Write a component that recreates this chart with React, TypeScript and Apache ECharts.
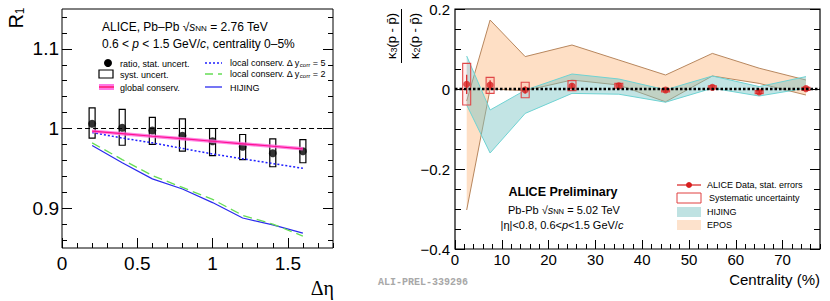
import React, { useEffect, useRef } from 'react';
import * as echarts from 'echarts';

// ---------- Left panel: R1 vs Δη ----------
const detaValues = [0.2, 0.4, 0.6, 0.8, 1.0, 1.2, 1.4, 1.6];
const ratioValues = [1.006, 1.001, 0.9975, 0.991, 0.984, 0.977, 0.969, 0.9715];
const ratioSystLow = [0.988, 0.979, 0.98, 0.9715, 0.966, 0.961, 0.952, 0.957];
const ratioSystHigh = [1.026, 1.024, 1.014, 1.012, 1.0, 0.9925, 0.987, 0.986];
const globalConserv = [0.9967, 0.9935, 0.9903, 0.9872, 0.984, 0.9808, 0.9777, 0.9745];
const localConserv5 = [0.995, 0.988, 0.982, 0.975, 0.968, 0.962, 0.956, 0.95];
const localConserv2 = [0.982, 0.961, 0.941, 0.926, 0.911, 0.891, 0.88, 0.865];
const hijingR1 = [0.9786, 0.957, 0.9368, 0.924, 0.907, 0.8877, 0.879, 0.8687];
const unityLineX = [0.1, 1.8];
const leftXTickLabels = ['0', '0.5', '1', '1.5'];
const leftYTickLabels = ['0.9', '1', '1.1'];

// ---------- Right panel: κ3/κ2 vs centrality ----------
const centrality = [2.5, 7.5, 15, 25, 35, 45, 55, 65, 75];
const aliceValues = [0.0117, 0.01, -0.0025, 0.0075, 0.008, -0.0025, 0.004, -0.0075, 0.001];
const aliceStat = [0.024, 0.012, 0.009, 0.007, 0.004, 0.004, 0.003, 0.004, 0.003];
const aliceSystLow = [-0.04, -0.011, -0.022, -0.004, 0.002, -0.005, 0.0, -0.011, -0.002];
const aliceSystHigh = [0.064, 0.029, 0.017, 0.021, 0.014, 0.0, 0.008, -0.004, 0.004];
const hijingUpper = [0.0825, -0.0525, -0.003, 0.0375, 0.025, -0.002, 0.0325, 0.006, 0.031];
const hijingLower = [-0.04, -0.16, -0.061, -0.011, -0.013, -0.033, 0.002, -0.0175, 0.002];
const eposUpper = [-0.03, 0.1725, 0.081, 0.11, 0.0725, 0.035, 0.089, 0.052, 0.0225];
const eposLower = [-0.3025, 0.0, -0.004, 0.0225, 0.01, -0.032, 0.0325, 0.014, -0.015];
const zeroLineX = [0, 78];
const rightXTickLabels = ['0', '10', '20', '30', '40', '50', '60', '70'];
const rightYTickLabels = ['\u22120.4', '\u22120.2', '0', '0.2'];

const FONT = '"Liberation Sans", Arial, Helvetica, sans-serif';

function cats(min: number, step: number, count: number) {
  return Array.from({ length: count }, (_, i) => (min + i * step).toFixed(3));
}

function tickAxis(
  gridIndex: number,
  position: string,
  data: string[],
  showTick: (i: number) => boolean,
  len: number,
  labelFn?: (i: number) => string | null,
  labelStyle?: any
) {
  return {
    type: 'category',
    gridIndex,
    position,
    data,
    boundaryGap: false,
    axisLine: { show: false },
    axisTick: {
      show: true,
      inside: true,
      length: len,
      interval: (i: number) => showTick(i),
      lineStyle: { color: '#000', width: 1 },
    },
    axisLabel: labelFn
      ? {
          show: true,
          interval: (i: number) => labelFn(i) !== null,
          formatter: (_v: string, i: number) => labelFn(i) ?? '',
          color: '#000',
          fontFamily: FONT,
          ...labelStyle,
        }
      : { show: false },
    splitLine: { show: false },
  };
}

function buildOption() {
  const LG = { left: 62, top: 9, width: 271, height: 239 };
  const RG = { left: 455, top: 9, width: 365, height: 240 };

  const lx = cats(0, 0.1, 19);
  const ly = cats(0.85, 0.01, 31);
  const rx = cats(0, 1, 79);
  const ry = cats(-0.4, 0.05, 13);

  const lxLabel = (i: number) => (i % 5 === 0 ? leftXTickLabels[i / 5] ?? null : null);
  const lyLabel = (i: number) => (i % 10 === 5 ? leftYTickLabels[(i - 5) / 10] ?? null : null);
  const rxLabel = (i: number) => (i % 10 === 0 ? rightXTickLabels[i / 10] ?? null : null);
  const ryLabel = (i: number) => (i % 4 === 0 ? rightYTickLabels[i / 4] ?? null : null);

  const bandSeries = (upper: number[], lower: number[], fill: string, stroke: string) => ({
    type: 'custom',
    xAxisIndex: 3,
    yAxisIndex: 5,
    clip: true,
    silent: true,
    data: [[centrality[0], upper[0]]],
    renderItem: (_p: any, api: any) => {
      const top = centrality.map((c, i) => api.coord([c, upper[i]]));
      const bot = centrality.map((c, i) => api.coord([c, lower[i]]));
      return {
        type: 'group',
        children: [
          { type: 'polygon', shape: { points: top.concat(bot.slice().reverse()) }, style: { fill, stroke: 'none' } },
          { type: 'polyline', shape: { points: top }, style: { stroke, lineWidth: 1, fill: 'none' } },
          { type: 'polyline', shape: { points: bot }, style: { stroke, lineWidth: 1, fill: 'none' } },
        ],
      };
    },
  });

  const richBase = {
    a: { fontSize: 12, fontFamily: FONT, color: '#000', verticalAlign: 'bottom', lineHeight: 15 },
    i: { fontSize: 12, fontFamily: FONT, fontStyle: 'italic', color: '#000', verticalAlign: 'bottom', lineHeight: 15 },
    sub: { fontSize: 8, fontFamily: FONT, color: '#000', verticalAlign: 'bottom', lineHeight: 9 },
  };
  const richLeg = {
    a: { fontSize: 9, fontFamily: FONT, color: '#000', verticalAlign: 'bottom', lineHeight: 11 },
    sub: { fontSize: 6, fontFamily: FONT, color: '#000', verticalAlign: 'bottom', lineHeight: 6 },
  };
  const richR = {
    a: { fontSize: 11, fontFamily: FONT, color: '#000', verticalAlign: 'bottom', lineHeight: 14 },
    i: { fontSize: 11, fontFamily: FONT, fontStyle: 'italic', color: '#000', verticalAlign: 'bottom', lineHeight: 14 },
    sub: { fontSize: 7.5, fontFamily: FONT, color: '#000', verticalAlign: 'bottom', lineHeight: 8 },
  };
  const richK = {
    k: { fontSize: 13, fontFamily: FONT, color: '#000', verticalAlign: 'bottom', lineHeight: 16 },
    s: { fontSize: 9, fontFamily: FONT, color: '#000', verticalAlign: 'bottom', lineHeight: 8 },
  };

  const legText = (x: number, y: number, text: string, rich: any) => ({
    type: 'text',
    x,
    y,
    style: { text, rich, align: 'left', verticalAlign: 'middle', fill: '#000' },
  });

  const graphic = [
    // left y title
    {
      type: 'text',
      x: 15,
      y: 18,
      rotation: Math.PI / 2,
      style: {
        text: '{r|R}{s|1}',
        rich: {
          r: { fontSize: 20, fontFamily: FONT, color: '#000', verticalAlign: 'bottom', lineHeight: 22 },
          s: { fontSize: 12, fontFamily: FONT, color: '#000', verticalAlign: 'bottom', lineHeight: 10 },
        },
        align: 'center',
        verticalAlign: 'middle',
      },
    },
    // left x title
    {
      type: 'text',
      x: 334,
      y: 288,
      style: { text: '\u0394\u03b7', fontSize: 20, fontFamily: '"Liberation Serif", serif', fill: '#000', align: 'right', verticalAlign: 'middle' },
    },
    // left header text
    legText(102, 25, '{a|ALICE, Pb\u2013Pb \u221a}{i|s}{sub|NN}{a| = 2.76 TeV}', richBase),
    legText(102, 42, '{a|0.6 < }{i|p}{a| < 1.5 GeV/}{i|c}{a|, centrality 0\u20135%}', richBase),
    // left legend
    { type: 'circle', shape: { cx: 108, cy: 63, r: 4 }, style: { fill: '#000' } },
    legText(120, 63, '{a|ratio, stat. uncert.}', richLeg),
    { type: 'rect', shape: { x: 99, y: 70, width: 14, height: 8 }, style: { fill: 'none', stroke: '#000', lineWidth: 1.2 } },
    legText(120, 74, '{a|syst. uncert.}', richLeg),
    { type: 'rect', shape: { x: 99, y: 84, width: 15, height: 6 }, style: { fill: '#ff77e6' } },
    { type: 'line', shape: { x1: 99, y1: 87, x2: 114, y2: 87 }, style: { stroke: '#ff0050', lineWidth: 1.2 } },
    legText(120, 87, '{a|global conserv.}', richLeg),
    { type: 'line', shape: { x1: 205, y1: 63, x2: 222, y2: 63 }, style: { stroke: '#1f1fff', lineWidth: 1.5, lineDash: [2, 2] } },
    legText(230, 62, '{a|local conserv. \u0394 y}{sub|corr}{a| = 5}', richLeg),
    { type: 'line', shape: { x1: 205, y1: 74, x2: 222, y2: 74 }, style: { stroke: '#66dd55', lineWidth: 1.3, lineDash: [8, 5] } },
    legText(230, 73, '{a|local conserv. \u0394 y}{sub|corr}{a| = 2}', richLeg),
    { type: 'line', shape: { x1: 205, y1: 87, x2: 222, y2: 87 }, style: { stroke: '#2a2aee', lineWidth: 1.3 } },
    legText(230, 87, '{a|HIJING}', richLeg),

    // right y title (fraction)
    {
      type: 'text',
      x: 390,
      y: 36,
      rotation: Math.PI / 2,
      style: { text: '{k|\u03ba}{s|3}{k|(p - p\u0304)}', rich: richK, align: 'center', verticalAlign: 'middle' },
    },
    { type: 'line', shape: { x1: 401.5, y1: 9, x2: 401.5, y2: 63 }, style: { stroke: '#000', lineWidth: 1 } },
    {
      type: 'text',
      x: 413,
      y: 36,
      rotation: Math.PI / 2,
      style: { text: '{k|\u03ba}{s|2}{k|(p - p\u0304)}', rich: richK, align: 'center', verticalAlign: 'middle' },
    },
    // right x title
    {
      type: 'text',
      x: 820,
      y: 279,
      style: { text: 'Centrality (%)', fontSize: 15, fontFamily: FONT, fill: '#000', align: 'right', verticalAlign: 'middle' },
    },
    // watermark id
    {
      type: 'text',
      x: 378,
      y: 282,
      style: { text: 'ALI-PREL-339296', fontSize: 10, fontWeight: 'bold', fontFamily: '"Liberation Mono", "Courier New", monospace', fill: '#a8a8a8', align: 'left', verticalAlign: 'middle' },
    },
    // right texts
    {
      type: 'text',
      x: 563,
      y: 192,
      style: { text: 'ALICE Preliminary', fontSize: 12.5, fontWeight: 'bold', fontFamily: FONT, fill: '#000', align: 'center', verticalAlign: 'middle' },
    },
    {
      type: 'text',
      x: 564,
      y: 208,
      style: { text: '{a|Pb-Pb \u221a}{i|s}{sub|NN}{a| = 5.02 TeV}', rich: richR, align: 'center', verticalAlign: 'middle' },
    },
    {
      type: 'text',
      x: 562,
      y: 223,
      style: { text: '{a||\u03b7|<0.8, 0.6<}{i|p}{a|<1.5 GeV/}{i|c}', rich: richR, align: 'center', verticalAlign: 'middle' },
    },
    // right legend
    { type: 'line', shape: { x1: 677, y1: 185, x2: 701, y2: 185 }, style: { stroke: '#d81e1e', lineWidth: 1.2 } },
    { type: 'circle', shape: { cx: 689, cy: 185, r: 3 }, style: { fill: '#d81e1e' } },
    legText(707, 185, '{a|ALICE Data, stat. errors}', { a: { fontSize: 9, fontFamily: FONT, color: '#000' } }),
    { type: 'rect', shape: { x: 677, y: 193, width: 24, height: 10 }, style: { fill: 'none', stroke: '#e04040', lineWidth: 1 } },
    legText(709, 198, '{a|Systematic uncertainty}', { a: { fontSize: 9, fontFamily: FONT, color: '#000' } }),
    { type: 'rect', shape: { x: 677, y: 207, width: 24, height: 10 }, style: { fill: '#bfe2e2' } },
    legText(707, 212, '{a|HIJING}', { a: { fontSize: 9, fontFamily: FONT, color: '#000' } }),
    { type: 'rect', shape: { x: 677, y: 220, width: 24, height: 10 }, style: { fill: '#fde2cc' } },
    legText(707, 225, '{a|EPOS}', { a: { fontSize: 9, fontFamily: FONT, color: '#000' } }),
  ];

  return {
    animation: false,
    backgroundColor: '#fff',
    grid: [
      { ...LG, show: true, borderColor: '#000', borderWidth: 1, backgroundColor: 'transparent' },
      { ...LG },
      { ...LG },
      { ...RG, show: true, borderColor: '#000', borderWidth: 1.2, backgroundColor: 'transparent' },
      { ...RG },
      { ...RG },
    ],
    xAxis: [
      { type: 'value', gridIndex: 0, min: 0, max: 1.8, show: false },
      tickAxis(1, 'bottom', lx, () => true, 5),
      tickAxis(2, 'bottom', lx, (i) => i % 5 === 0, 10, lxLabel, { fontSize: 19, margin: 6 }),
      { type: 'value', gridIndex: 3, min: 0, max: 78, show: false },
      tickAxis(4, 'bottom', rx, (i) => i % 2 === 0, 5),
      tickAxis(5, 'bottom', rx, (i) => i % 10 === 0, 9, rxLabel, { fontSize: 15, margin: 3 }),
    ],
    yAxis: [
      { type: 'value', gridIndex: 0, min: 0.85, max: 1.15, show: false },
      tickAxis(1, 'left', ly, (i) => i % 2 === 1, 5),
      tickAxis(1, 'right', ly, (i) => i % 2 === 1, 5),
      tickAxis(2, 'left', ly, (i) => i % 10 === 5, 10, lyLabel, { fontSize: 19, margin: 3 }),
      tickAxis(2, 'right', ly, (i) => i % 10 === 5, 10),
      { type: 'value', gridIndex: 3, min: -0.4, max: 0.2, show: false },
      tickAxis(4, 'left', ry, () => true, 6),
      tickAxis(4, 'right', ry, () => true, 6),
      tickAxis(5, 'left', ry, (i) => i % 4 === 0, 10, ryLabel, { fontSize: 15, margin: 5 }),
      tickAxis(5, 'right', ry, (i) => i % 4 === 0, 10),
    ],
    graphic: { elements: graphic },
    series: [
      // ---- left ----
      {
        type: 'line', xAxisIndex: 0, yAxisIndex: 0, symbol: 'none', silent: true,
        data: unityLineX.map((x) => [x, 1]),
        lineStyle: { color: '#000', width: 1.2, type: [5, 3] },
      },
      {
        type: 'line', xAxisIndex: 0, yAxisIndex: 0, symbol: 'none', silent: true,
        data: detaValues.map((x, i) => [x, hijingR1[i]]),
        lineStyle: { color: '#2a2aee', width: 1.2 },
      },
      {
        type: 'line', xAxisIndex: 0, yAxisIndex: 0, symbol: 'none', silent: true,
        data: detaValues.map((x, i) => [x, localConserv2[i]]),
        lineStyle: { color: '#66dd55', width: 1.3, type: [9, 5] },
      },
      {
        type: 'line', xAxisIndex: 0, yAxisIndex: 0, symbol: 'none', silent: true,
        data: detaValues.map((x, i) => [x, localConserv5[i]]),
        lineStyle: { color: '#1f1fff', width: 1.5, type: [2, 2] },
      },
      {
        type: 'line', xAxisIndex: 0, yAxisIndex: 0, symbol: 'none', silent: true,
        data: detaValues.map((x, i) => [x, globalConserv[i]]),
        lineStyle: { color: '#ff66dd', width: 3.5, opacity: 0.8 },
      },
      {
        type: 'line', xAxisIndex: 0, yAxisIndex: 0, symbol: 'none', silent: true,
        data: detaValues.map((x, i) => [x, globalConserv[i]]),
        lineStyle: { color: '#ff1090', width: 1.2 },
      },
      {
        type: 'custom', xAxisIndex: 0, yAxisIndex: 0, silent: true,
        data: detaValues.map((x, i) => [x, ratioSystLow[i], ratioSystHigh[i]]),
        encode: { x: 0, y: [1, 2] },
        renderItem: (_p: any, api: any) => {
          const x = api.value(0);
          const pHi = api.coord([x, api.value(2)]);
          const pLo = api.coord([x, api.value(1)]);
          return {
            type: 'rect',
            shape: { x: pHi[0] - 3, y: pHi[1], width: 6, height: pLo[1] - pHi[1] },
            style: { fill: 'none', stroke: '#000', lineWidth: 1.2 },
          };
        },
      },
      {
        type: 'scatter', xAxisIndex: 0, yAxisIndex: 0, silent: true,
        data: detaValues.map((x, i) => [x, ratioValues[i]]),
        symbol: 'circle', symbolSize: 8,
        itemStyle: { color: '#000' },
      },
      // ---- right ----
      bandSeries(eposUpper, eposLower, 'rgba(253,212,178,0.75)', '#b8875e'),
      bandSeries(hijingUpper, hijingLower, 'rgba(120,195,195,0.45)', '#6fd3d3'),
      {
        type: 'line', xAxisIndex: 3, yAxisIndex: 5, symbol: 'none', silent: true,
        data: zeroLineX.map((x) => [x, 0]),
        lineStyle: { color: '#000', width: 2.5, type: [2.5, 2] },
      },
      {
        type: 'custom', xAxisIndex: 3, yAxisIndex: 5, silent: true,
        data: centrality.map((x, i) => [x, aliceSystLow[i], aliceSystHigh[i]]),
        encode: { x: 0, y: [1, 2] },
        renderItem: (_p: any, api: any) => {
          const x = api.value(0);
          const pHi = api.coord([x, api.value(2)]);
          const pLo = api.coord([x, api.value(1)]);
          const h = Math.max(pLo[1] - pHi[1], 3);
          return {
            type: 'rect',
            shape: { x: pHi[0] - 4, y: pHi[1], width: 8, height: h },
            style: { fill: 'rgba(255,140,140,0.15)', stroke: '#e04848', lineWidth: 1.1 },
          };
        },
      },
      {
        type: 'custom', xAxisIndex: 3, yAxisIndex: 5, silent: true,
        data: centrality.map((x, i) => [x, aliceValues[i] - aliceStat[i], aliceValues[i] + aliceStat[i]]),
        encode: { x: 0, y: [1, 2] },
        renderItem: (_p: any, api: any) => {
          const x = api.value(0);
          const pHi = api.coord([x, api.value(2)]);
          const pLo = api.coord([x, api.value(1)]);
          return {
            type: 'line',
            shape: { x1: pHi[0], y1: pHi[1], x2: pLo[0], y2: pLo[1] },
            style: { stroke: '#d81e1e', lineWidth: 1.2 },
          };
        },
      },
      {
        type: 'scatter', xAxisIndex: 3, yAxisIndex: 5, silent: true,
        data: centrality.map((x, i) => [x, aliceValues[i]]),
        symbol: 'circle', symbolSize: 7,
        itemStyle: { color: '#d81e1e' },
      },
    ],
  };
}

export default function App() {
  const ref = useRef<HTMLDivElement>(null);
  useEffect(() => {
    document.body.style.margin = '0';
    const chart = echarts.init(ref.current as HTMLDivElement, null, { renderer: 'svg' });
    chart.setOption(buildOption() as any);
    return () => chart.dispose();
  }, []);
  return <div ref={ref} style={{ width: 830, height: 301 }} />;
}
